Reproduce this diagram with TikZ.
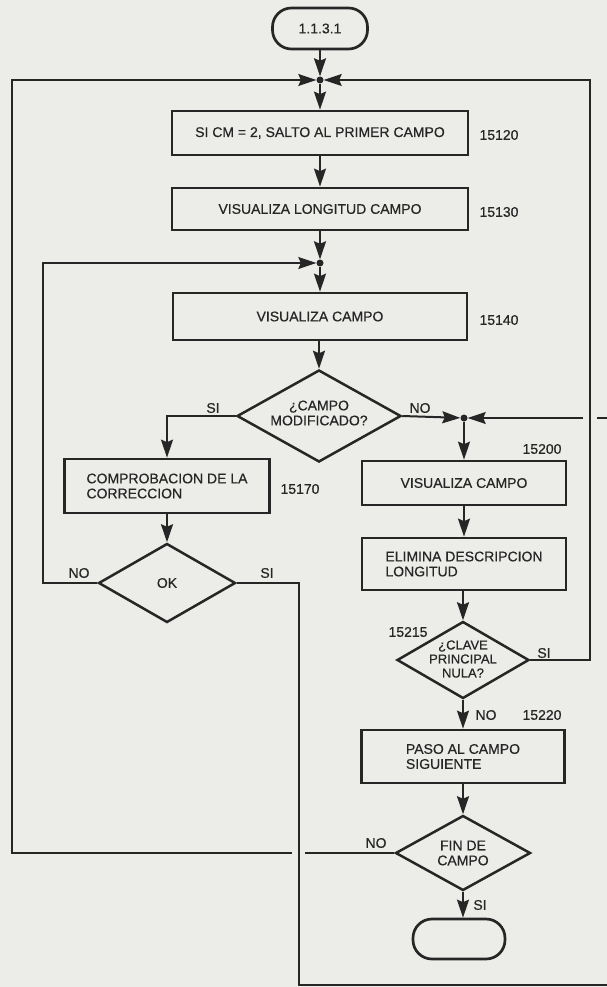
\documentclass[tikz,border=0pt]{standalone}
\usepackage{fontspec}
\setmainfont{Liberation Sans}[FakeBold=0.5]
\usetikzlibrary{arrows.meta,shapes.geometric}
\definecolor{ink}{RGB}{38,38,38}
\definecolor{paper}{RGB}{236,236,233}
\begin{document}
\begin{tikzpicture}[x=1pt,y=-1pt,
  txt/.style={font=\fontsize{14}{15}\selectfont, text=ink, inner sep=0pt},
  lbl/.style={txt},
  box/.style={draw=ink, line width=2.7pt, inner sep=0pt, txt},
  dia/.style={diamond, draw=ink, line width=2.5pt, inner sep=0pt},
  term/.style={draw=ink, line width=2.7pt, rounded corners=19pt, inner sep=0pt, txt},
  dot/.style={circle, fill=ink, inner sep=0pt, minimum size=7pt},
  flow/.style={draw=ink, line width=2pt, -{Stealth[length=18pt,width=12pt,inset=2.5pt]}},
  loopline/.style={draw=ink, line width=1.4pt},
  loopflow/.style={draw=ink, line width=1.4pt, -{Stealth[length=18pt,width=12pt,inset=2.5pt]}}]
\useasboundingbox (0,0) rectangle (607,987);
\fill[paper] (0,0) rectangle (607,987);

% main column
\node[term, minimum width=95pt, minimum height=41pt] (t1) at (320,28.5) {1.1.3.1};
\node[dot] (j1) at (320,80) {};
\node[box, minimum width=296pt, minimum height=44pt] (b1) at (320,133) {SI CM = 2, SALTO AL PRIMER CAMPO};
\node[lbl] (n15120) at (499,135) {15120};
\node[box, minimum width=296pt, minimum height=42pt] (b2) at (320,209) {VISUALIZA LONGITUD CAMPO};
\node[lbl] (n15130) at (499,212) {15130};
\node[dot] (j2) at (320,263) {};
\node[box, minimum width=294pt, minimum height=47pt] (b3) at (320,316.5) {VISUALIZA CAMPO};
\node[lbl] (n15140) at (499,320) {15140};
\node[dia, minimum width=164pt, minimum height=92pt] (d1) at (319,416) {};
\node[txt, align=center] (d1t) at ([yshift=3pt]d1.center) {¿CAMPO\\MODIFICADO?};
\node[lbl] (si1) at (213,408) {SI};
\node[lbl] (no1) at (420,408) {NO};

% left column
\node[box, minimum width=205pt, minimum height=54pt, align=left] (lb) at (167,486) {COMPROBACION DE LA\\CORRECCION};
\node[lbl] (n15170) at (300,489) {15170};
\node[dia, minimum width=137pt, minimum height=79pt] (d2) at (167,583) {};
\node[txt] (d2t) at (d2) {OK};
\node[lbl] (no2) at (79,573) {NO};
\node[lbl] (si2) at (267,573) {SI};

% right column
\node[dot] (j3) at (464,418) {};
\node[lbl] (n15200) at (542,449) {15200};
\node[box, minimum width=204pt, minimum height=44pt] (r1) at (464,483) {VISUALIZA CAMPO};
\node[box, minimum width=204pt, minimum height=52pt, align=left] (r2) at (464,564) {ELIMINA DESCRIPCION\\LONGITUD};
\node[dia, minimum width=132pt, minimum height=77pt] (d3) at (463,660) {};
\node[txt, font=\fontsize{13}{14}\selectfont, align=center] (d3t) at ([yshift=1pt]d3.center) {¿CLAVE\\PRINCIPAL\\NULA?};
\node[lbl] (n15215) at (408,632) {15215};
\node[lbl] (si3) at (544,653) {SI};
\node[lbl] (no3) at (486,715) {NO};
\node[lbl] (n15220) at (542,715) {15220};
\node[box, minimum width=203pt, minimum height=53pt, align=left] (r3) at (463,756.5) {PASO AL CAMPO\\SIGUIENTE};
\node[dia, minimum width=135pt, minimum height=75pt] (d4) at (463,853) {};
\node[txt, align=center] (d4t) at (d4) {FIN DE\\CAMPO};
\node[lbl] (no4) at (376,843) {NO};
\node[lbl] (si4) at (480,905) {SI};
\node[term, minimum width=92pt, minimum height=40pt] (t2) at (459,939) {};

% helper coordinates
\coordinate (cTL) at (12,80);
\coordinate (cTR) at (590,80);
\coordinate (cIL) at (43,263);
\coordinate (g1a) at (597,418);
\coordinate (g1b) at (583,418);
\coordinate (e1) at (607,418);
\coordinate (g2a) at (305,853);
\coordinate (g2b) at (292,853);
\coordinate (cB) at (299,985);
\coordinate (e2) at (607,985);

% connectors main
\draw[flow] (t1) -- (j1);
\draw[flow] (j1) -- (b1);
\draw[flow] (b1) -- (b2);
\draw[flow] (b2) -- (j2);
\draw[flow] (j2) -- (b3);
\draw[flow] (b3.south -| d1.north) -- (d1.north);
\draw[flow] (d1.west) -| (lb.north);
\draw[flow] (d1.east) -- (j3);
\draw[loopline] (e1) -- (g1a);
\draw[loopflow] (g1b) -- (j3);

% right column connectors
\draw[flow] (j3) -- (r1);
\draw[flow] (r1) -- (r2);
\draw[flow] (r2.south -| d3.north) -- (d3.north);
\draw[flow] (d3.south) -- (d3.south |- r3.north);
\draw[flow] (r3) -- (d4);
\draw[flow] (d4.south) -- (d4.south |- t2.north);
\draw[loopflow] (d3.east) -| (cTR) -- (j1);

% left column connectors
\draw[flow] (lb) -- (d2);
\draw[loopflow] (d2.west) -| (cIL) -- (j2);
\draw[loopline] (d2.east) -| (cB) -- (e2);

% end-of-field loop
\draw[loopline] (d4.west) -- (g2a);
\draw[loopflow] (g2b) -| (cTL) -- (j1);
\end{tikzpicture}
\end{document}
